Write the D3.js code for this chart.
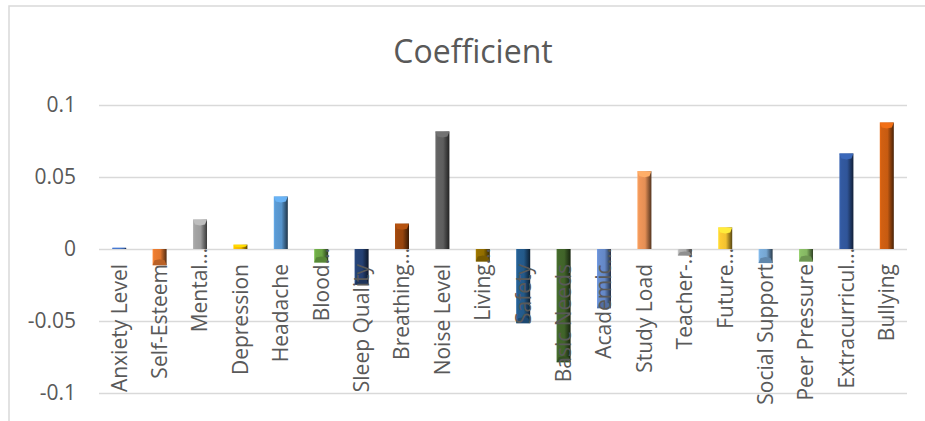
<!DOCTYPE html>
<html>
<head>
<meta charset="utf-8">
<script src="https://cdn.jsdelivr.net/npm/d3@7"></script>
<style>
  html, body { margin: 0; padding: 0; background: #ffffff; }
  svg { display: block; }
  text { font-family: "Open Sans", "DejaVu Sans", sans-serif; fill: #595959; }
</style>
</head>
<body>
<svg id="chart" width="925" height="421"></svg>
<script>
// Regression coefficients per factor
const categories = [
  "Anxiety Level", "Self-Esteem", "Mental…", "Depression", "Headache",
  "Blood…", "Sleep Quality", "Breathing…", "Noise Level", "Living…",
  "Safety", "Basic Needs", "Academic…", "Study Load", "Teacher-…",
  "Future…", "Social Support", "Peer Pressure", "Extracurricul…", "Bullying"
];
const coefficients = [
  0.0008, -0.0112, 0.0204, 0.0030, 0.0364,
  -0.0093, -0.0248, 0.0176, 0.0816, -0.0086,
  -0.0515, -0.0786, -0.0411, 0.0540, -0.0045,
  0.0150, -0.0098, -0.0086, 0.0663, 0.0878
];
const barColors = [
  "#4472c4", "#ed7d31", "#a5a5a5", "#ffc000", "#5b9bd5",
  "#70ad47", "#264478", "#9e480e", "#636363", "#997300",
  "#255e91", "#43682b", "#698ed0", "#f1975a", "#b7b7b7",
  "#ffcd33", "#7cafdd", "#8cc168", "#335aa1", "#d26012"
];
const tickValues = [0.1, 0.05, 0, -0.05, -0.1];
const tickLabels = ["0.1", "0.05", "0", "-0.05", "-0.1"];
const chartTitle = "Coefficient";

const svg = d3.select("#chart");
const plot = { left: 99, right: 907, top: 105, bottom: 393 };

// Outer chart frame (runs past the right and bottom edges)
svg.append("rect")
  .attr("x", 9).attr("y", 6)
  .attr("width", 960).attr("height", 440)
  .attr("fill", "none")
  .attr("stroke", "#d9d9d9")
  .attr("stroke-width", 1.5);

const x = d3.scaleBand()
  .domain(categories)
  .range([plot.left, plot.right])
  .paddingInner(0.653)
  .paddingOuter(0.3265);

const y = d3.scaleLinear()
  .domain([-0.1, 0.1])
  .range([plot.bottom, plot.top]);

// Value axis with gridlines
const yAxis = d3.axisLeft(y)
  .tickValues(tickValues)
  .tickFormat((d, i) => tickLabels[i])
  .tickSize(-(plot.right - plot.left))
  .tickPadding(23);

const gy = svg.append("g")
  .attr("transform", `translate(${plot.left},0)`)
  .call(yAxis);
gy.select(".domain").remove();
gy.selectAll(".tick line")
  .attr("stroke", "#d9d9d9")
  .attr("stroke-width", 1.3);
gy.selectAll(".tick text")
  .attr("font-size", 21)
  .attr("fill", "#595959")
  .style("font-family", "'Open Sans', sans-serif");

// Bevelled bar fills: light left edge, dark right edge
const defs = svg.append("defs");
barColors.forEach((c, i) => {
  const base = d3.color(c);
  const g = defs.append("linearGradient")
    .attr("id", "bar-grad-" + i)
    .attr("x1", "0%").attr("x2", "100%")
    .attr("y1", "0%").attr("y2", "0%");
  const stops = [
    [0, base.brighter(0.3)],
    [0.12, base],
    [0.55, base.darker(0.15)],
    [0.75, base.darker(1.1)],
    [1, base.darker(3)]
  ];
  stops.forEach(([o, col]) => {
    g.append("stop").attr("offset", o).attr("stop-color", col.formatHex());
  });
});

const data = categories.map((c, i) => ({ cat: c, value: coefficients[i], idx: i }));
const y0 = y(0);
const bw = x.bandwidth();

const bars = svg.append("g").selectAll("g")
  .data(data)
  .join("g");

bars.append("rect")
  .attr("x", d => x(d.cat))
  .attr("y", d => Math.min(y(d.value), y0))
  .attr("width", bw)
  .attr("height", d => Math.abs(y(d.value) - y0))
  .attr("fill", d => `url(#bar-grad-${d.idx})`);

// End-cap facet of the bevel
bars.append("path")
  .attr("d", d => {
    const x0 = x(d.cat), x1 = x0 + bw, xc = x0 + bw / 2;
    const ye = y(d.value);
    const len = Math.abs(ye - y0);
    const h = Math.min(5, len / 2);
    const dir = d.value >= 0 ? 1 : -1;
    return `M${x0},${ye}L${x1},${ye}L${x1 - 2},${ye + dir * h}L${xc},${ye + dir * h * 1.2}L${x0 + 2},${ye + dir * h}Z`;
  })
  .attr("fill", d => {
    const base = d3.color(barColors[d.idx]);
    return (d.value >= 0 ? base.brighter(0.4) : base.darker(0.7)).formatHex();
  });

// Category labels, rotated, hanging below the zero line
svg.append("g").selectAll("text")
  .data(data)
  .join("text")
  .attr("transform", d => {
    const cx = x(d.cat) + bw / 2;
    const ey = y0 + (d.cat.endsWith("…") ? -1 : 15);
    return `translate(${cx},${ey}) rotate(-90)`;
  })
  .attr("text-anchor", "end")
  .attr("dy", "0.35em")
  .attr("font-size", 21)
  .text(d => d.cat);

// Title
svg.append("text")
  .attr("x", 473)
  .attr("y", 62.5)
  .attr("text-anchor", "middle")
  .attr("font-size", 32)
  .text(chartTitle);
</script>
</body>
</html>
